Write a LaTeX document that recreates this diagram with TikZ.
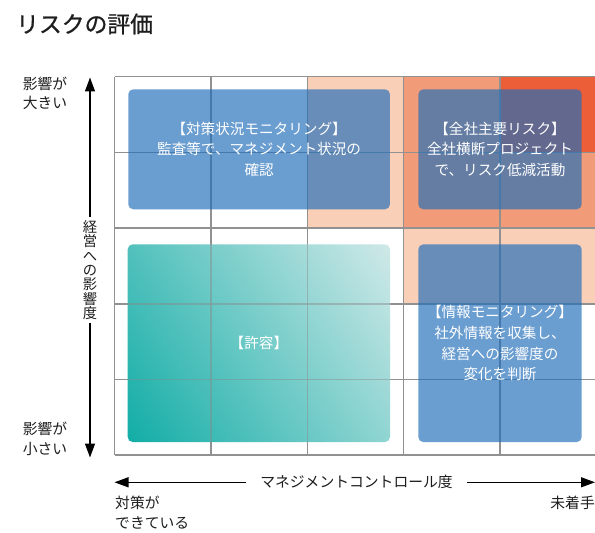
\documentclass[tikz,border=0pt]{standalone}
\usepackage{fontspec}
\setmainfont{Noto Sans CJK JP}
\newfontfamily\titlefont[FakeBold=0.9]{Noto Sans CJK JP}
\usetikzlibrary{arrows.meta}
\definecolor{peach}{RGB}{249,207,184}
\definecolor{salmon}{RGB}{242,155,120}
\definecolor{hot}{RGB}{236,94,56}
\definecolor{boxblue}{RGB}{33,110,185}
\definecolor{tealdark}{RGB}{0,167,160}
\definecolor{teallight}{RGB}{205,232,231}
\definecolor{gridgray}{RGB}{145,145,145}
\definecolor{txt}{RGB}{30,30,30}
\pgfdeclareverticalshading{tealsh}{100bp}{color(0bp)=(tealdark); color(15bp)=(tealdark); color(85bp)=(teallight); color(100bp)=(teallight)}
\tikzset{
  cellP/.style={fill=peach},
  cellS/.style={fill=salmon},
  cellR/.style={fill=hot},
  gridline/.style={draw=gridgray, line width=1.1bp},
  bluebox/.style={fill=boxblue, fill opacity=0.67, text opacity=1, rounded corners=5bp,
    text=white, align=center, inner sep=0pt, font=\fontsize{14.6bp}{20.6bp}\selectfont},
  boxtext/.style={text=white, align=center, inner sep=0pt, font=\fontsize{14.6bp}{20.6bp}\selectfont},
  axisarrow/.style={draw=black, line width=1.3bp, -{Triangle[length=14bp,width=10bp]}},
  lbl/.style={text=txt, inner sep=0pt, font=\fontsize{14.8bp}{19.2bp}\selectfont},
}
\begin{document}
\begin{tikzpicture}[x=1bp,y=-1bp]
\useasboundingbox[fill=white] (0,0) rectangle (595,533);
% title
\node[anchor=west, text=txt, inner sep=0pt, font=\titlefont\fontsize{22.8bp}{26bp}\selectfont] (title) at (16,24) {リスクの評価};
% colored cells
\fill[cellP] (307.3,76.7) rectangle (403.3,228);
\fill[cellS] (403.3,76.7) rectangle (500,228);
\fill[cellS] (500,152.7) rectangle (596.5,228);
\fill[cellR] (500,76.7) rectangle (596.5,152.7);
\fill[cellP] (403.3,228) rectangle (596.5,304);
% grid
\foreach \x in {114.7,211,307.3,403.3,500}
  \draw[gridline] (\x,76.7) -- (\x,455);
\foreach \y in {76.7,152.7,228,304,379.5,455}
  \draw[gridline] (114.7,\y) -- (596.5,\y);
% teal box
\shade[rounded corners=5bp, shading=tealsh, shading angle=-56, opacity=0.93]
  (127.7,244.3) rectangle (390,442);
\foreach \x in {211,307.3}
  \draw[gridline, draw opacity=0.45] (\x,244.3) -- (\x,442);
\foreach \y in {304,379.5}
  \draw[gridline, draw opacity=0.45] (127.7,\y) -- (390,\y);
\node[boxtext] (kyoyo) at (258.9,343.2) {【許容】};
% blue boxes
\node[bluebox, minimum width=261.7bp, minimum height=120bp] (taisaku) at (259.1,149.3)
  {【対策状況モニタリング】\\監査等で、マネジメント状況の\\確認};
\node[bluebox, minimum width=163.4bp, minimum height=120bp] (zensha) at (500,149.3)
  {【全社主要リスク】\\全社横断プロジェクト\\で、リスク低減活動};
\node[bluebox, minimum width=163.4bp, minimum height=197.7bp] (joho) at (500,343.2)
  {【情報モニタリング】\\社外情報を収集し、\\経営への影響度の\\変化を判断};
% vertical axis
\node[lbl, align=center, font=\fontsize{14.3bp}{14.4bp}\selectfont, inner ysep=3bp] (vlabel) at (90,270)
  {経\\営\\へ\\の\\影\\響\\度};
\coordinate (vtop) at (90,77.5);
\coordinate (vbot) at (90,457.5);
\draw[axisarrow] (vlabel.north) -- (vtop);
\draw[axisarrow] (vlabel.south) -- (vbot);
\node[lbl, anchor=west, align=left] (big) at (22.7,93) {影響が\\大きい};
\node[lbl, anchor=west, align=left] (small) at (22.7,438.8) {影響が\\小さい};
% horizontal axis
\node[lbl, inner xsep=14.5bp] (hlabel) at (356.5,482.3) {マネジメントコントロール度};
\coordinate (hleft) at (114.5,482.3);
\coordinate (hright) at (595,482.3);
\draw[axisarrow] (hlabel.west) -- (hleft);
\draw[axisarrow] (hlabel.east) -- (hright);
\node[lbl, anchor=west, align=left] (done) at (115,512.5) {対策が\\できている};
\node[lbl, anchor=east] (notyet) at (595,503.3) {未着手};
\end{tikzpicture}
\end{document}
